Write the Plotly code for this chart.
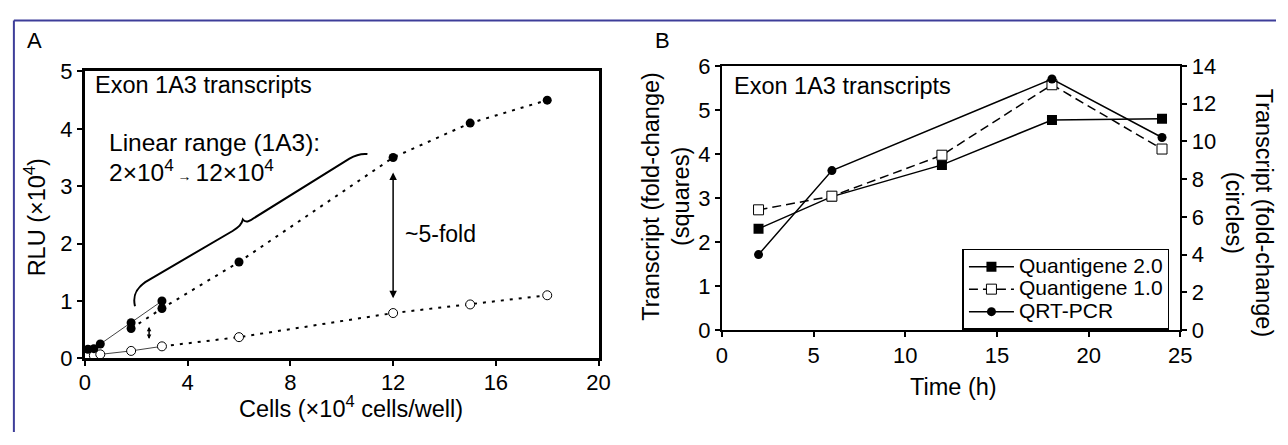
import plotly.graph_objects as go

# ---------------- Panel A data ----------------
cells_low = [0.12, 0.35, 0.6, 1.8, 3.0]
rlu_filled_low = [0.16, 0.17, 0.25, 0.62, 1.00]
cells_dup = [1.8, 3.0]
rlu_filled_dup = [0.52, 0.87]
cells_high = [6, 12, 15, 18]
rlu_filled_high = [1.68, 3.50, 4.10, 4.50]
rlu_open_low = [0.05, 0.05, 0.07, 0.13, 0.21]
rlu_open_high = [0.37, 0.79, 0.94, 1.10]

# ---------------- Panel B data ----------------
time_h = [2, 6, 12, 18, 24]
qg20 = [2.30, 3.03, 3.75, 4.77, 4.80]
qg10 = [2.73, 3.04, 3.97, 5.57, 4.11]
time_pcr = [2, 6, 18, 24]
qrtpcr = [4.0, 8.45, 13.3, 10.2]
legend_names = ["Quantigene 2.0", "Quantigene 1.0", "QRT-PCR"]

FONT = "Liberation Sans, Arial, sans-serif"
W, H = 1288, 445
DOT = "3px,6px"
TXT = 23.5

def lg(name):
    return "<span style='font-size:21px'>" + name + "</span>"

fig = go.Figure()

# Panel A traces
fig.add_trace(go.Scatter(x=cells_low, y=rlu_filled_low, mode="lines",
                         line=dict(color="#444", width=1), showlegend=False,
                         xaxis="x", yaxis="y"))
fig.add_trace(go.Scatter(x=cells_low, y=rlu_open_low, mode="lines",
                         line=dict(color="#444", width=1), showlegend=False,
                         xaxis="x", yaxis="y"))
fig.add_trace(go.Scatter(x=cells_dup + cells_high, y=rlu_filled_dup + rlu_filled_high,
                         mode="lines", line=dict(color="black", width=2, dash=DOT),
                         showlegend=False, xaxis="x", yaxis="y"))
fig.add_trace(go.Scatter(x=cells_low[-1:] + cells_high, y=rlu_open_low[-1:] + rlu_open_high,
                         mode="lines", line=dict(color="black", width=2, dash=DOT),
                         showlegend=False, xaxis="x", yaxis="y"))
fig.add_trace(go.Scatter(x=cells_low + cells_high, y=rlu_open_low + rlu_open_high,
                         mode="markers",
                         marker=dict(symbol="circle", size=9, color="white",
                                     line=dict(color="black", width=1)),
                         showlegend=False, xaxis="x", yaxis="y"))
fig.add_trace(go.Scatter(x=cells_low + cells_dup + cells_high,
                         y=rlu_filled_low + rlu_filled_dup + rlu_filled_high,
                         mode="markers",
                         marker=dict(symbol="circle", size=9, color="black"),
                         showlegend=False, xaxis="x", yaxis="y"))

# Panel B traces
fig.add_trace(go.Scatter(x=time_h, y=qg20, mode="lines+markers", name=lg(legend_names[0]),
                         line=dict(color="black", width=1.5),
                         marker=dict(symbol="square", size=10, color="black"),
                         xaxis="x2", yaxis="y2"))
fig.add_trace(go.Scatter(x=time_h, y=qg10, mode="lines+markers", name=lg(legend_names[1]),
                         line=dict(color="black", width=1.5, dash="9px,5px"),
                         marker=dict(symbol="square", size=10, color="white",
                                     line=dict(color="black", width=1)),
                         xaxis="x2", yaxis="y2"))
fig.add_trace(go.Scatter(x=time_pcr, y=qrtpcr, mode="lines+markers", name=lg(legend_names[2]),
                         line=dict(color="black", width=1.5),
                         marker=dict(symbol="circle", size=9, color="black"),
                         xaxis="x2", yaxis="y3"))

def px_x(a, b):
    return [a / W, b / W]

def px_y(top, bottom):
    return [(H - bottom) / H, (H - top) / H]

tickfont = dict(family=FONT, size=22, color="black")
axis_common = dict(showgrid=False, zeroline=False, showline=True, linecolor="black",
                   ticks="outside", tickcolor="black", ticklen=5, tickwidth=2,
                   tickfont=tickfont)

fig.update_layout(
    width=W, height=H,
    margin=dict(l=0, r=0, t=0, b=0),
    paper_bgcolor="white", plot_bgcolor="white",
    font=dict(family=FONT, size=22, color="black"),
    xaxis=dict(domain=px_x(80, 601), range=[0, 20], tickvals=[0, 4, 8, 12, 16, 20],
               anchor="y", mirror=True, linewidth=3, ticklabelstandoff=-3, **axis_common),
    yaxis=dict(domain=px_y(63, 367), range=[0, 5], tickvals=[0, 1, 2, 3, 4, 5],
               anchor="x", mirror=True, linewidth=3, **axis_common),
    xaxis2=dict(domain=px_x(726, 1191), range=[0, 25], tickvals=[0, 5, 10, 15, 20, 25],
                anchor="y2", mirror=True, linewidth=2, **axis_common),
    yaxis2=dict(domain=px_y(57, 337), range=[0, 6], tickvals=[0, 1, 2, 3, 4, 5, 6],
                anchor="x2", linewidth=2, **axis_common),
    yaxis3=dict(range=[0, 14], tickvals=[0, 2, 4, 6, 8, 10, 12, 14], overlaying="y2",
                side="right", anchor="x2", linewidth=2, **axis_common),
    legend=dict(x=970 / W, y=(H - 251) / H, xanchor="left", yanchor="top",
                bordercolor="black", borderwidth=1.5, bgcolor="white",
                font=dict(family=FONT, size=15, color="black"),
                tracegroupgap=0, itemwidth=45),
)

ann = []
def text(x, y, s, xanchor="left", size=TXT, angle=0):
    ann.append(dict(x=x, y=y, xref="paper", yref="paper", text=s, showarrow=False,
                    xanchor=xanchor, yanchor="middle", textangle=angle,
                    font=dict(family=FONT, size=size, color="black")))

def px(xp, yp):
    return xp / W, (H - yp) / H

# Panel labels
text(*px(29, 30), "A", xanchor="center", size=22)
text(*px(666, 30), "B", xanchor="center", size=22)
# Panel A texts
text(*px(88, 77), "Exon 1A3 transcripts")
text(*px(102, 138), "Linear range (1A3):", size=24.5)
text(*px(102, 168), "2×10<sup>4</sup><span style='font-size:14px'> → </span>12×10<sup>4</sup>",
     size=24.5)
text(*px(403, 235), "~5-fold", size=23)
text(*px(350, 419), "Cells (×10<sup>4</sup> cells/well)", xanchor="center")
text(*px(29, 218), "RLU (×10<sup>4</sup>)", xanchor="center", angle=-90)
# Panel B texts
text(*px(736, 78), "Exon 1A3 transcripts")
text(*px(961, 397), "Time (h)", xanchor="center")
text(*px(669, 195), "Transcript (fold-change)<br>(squares)", xanchor="center", angle=-90)
text(*px(1261, 213), "Transcript (fold-change)<br>(circles)", xanchor="center", angle=90)

# Arrows in panel A
for (xa, y0, y1, sz) in [(12, 1.02, 3.24, 1.0), (2.5, 0.31, 0.55, 0.6)]:
    ann.append(dict(x=xa, y=y1, ax=xa, ay=y0, xref="x", yref="y", axref="x", ayref="y",
                    showarrow=True, arrowhead=2, startarrowhead=2, arrowside="end+start",
                    arrowsize=sz, startarrowsize=sz, arrowwidth=1.5,
                    arrowcolor="black", text=""))

fig.update_layout(annotations=ann)

shapes = []
# Curly brace (annotation drawn in data coords of panel A)
brace = ("M 1.95,0.91 C 1.85,1.10 2.00,1.22 2.35,1.33 "
         "L 5.75,2.22 C 6.00,2.29 6.10,2.33 6.15,2.42 "
         "C 6.25,2.36 6.40,2.38 6.60,2.45 "
         "L 10.30,3.48 C 10.60,3.56 10.80,3.57 11.00,3.56")
shapes.append(dict(type="path", path=brace, xref="x", yref="y",
                   line=dict(color="black", width=2)))
# Blue frame (top and left edges)
shapes.append(dict(type="line", xref="paper", yref="paper", x0=8 / W, x1=1, y0=(H - 9) / H,
                   y1=(H - 9) / H, line=dict(color="#3d3d99", width=2)))
shapes.append(dict(type="line", xref="paper", yref="paper", x0=8 / W, x1=8 / W, y0=0,
                   y1=(H - 9) / H, line=dict(color="#3d3d99", width=2)))
fig.update_layout(shapes=shapes)

fig.write_html("out.html",
               config={"displayModeBar": False},
               post_script="document.body.style.margin='0';"
                           "document.body.style.overflow='hidden';")
